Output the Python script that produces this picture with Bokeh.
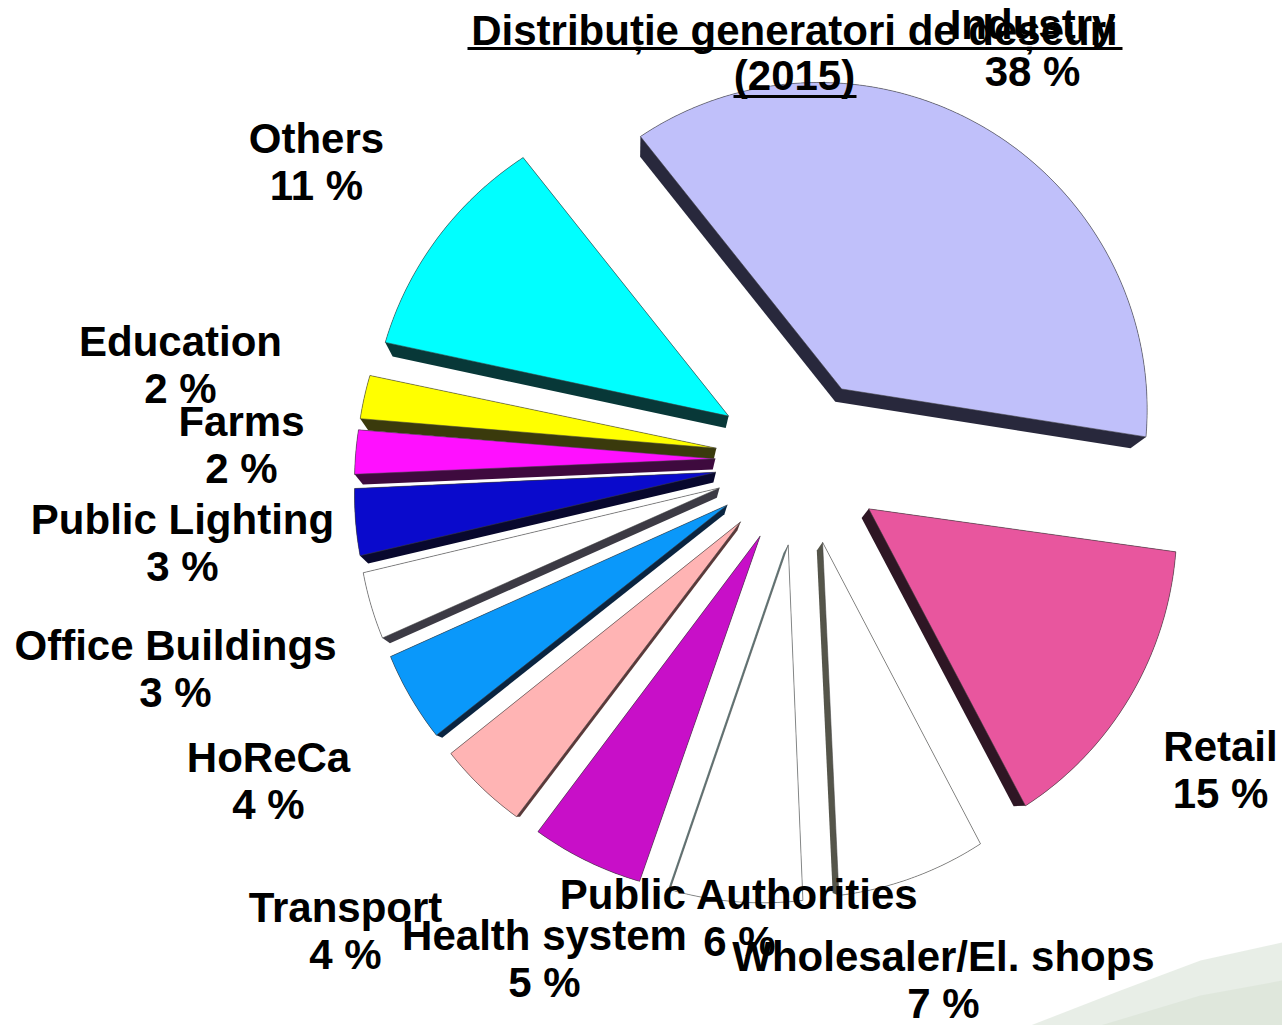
import numpy as np
from bokeh.plotting import figure
from bokeh.models import Range1d, ColumnDataSource
from bokeh.core.properties import value
from bokeh.embed import file_html
from bokeh.resources import INLINE

# ---- data (clockwise from the top) ----
categories = ["Industry", "Retail", "Wholesaler/El. shops", "Public Authorities",
              "Health system", "Transport", "HoReCa", "Office Buildings",
              "Public Lighting", "Farms", "Education", "Others"]
shares = [38, 15, 7, 6, 5, 4, 4, 3, 3, 2, 2, 11]
title_lines = ["Distribuție generatori de deșeuri", "(2015)"]

# ---- styles ----
top_colors = ["#C0C0FA", "#E8569E", "#FFFFFF", "#FFFFFF", "#C80FC8", "#FFB4B4",
              "#0A98FA", "#FFFFFF", "#0A0ACC", "#FF10FF", "#FFFF00", "#00FFFF"]
side_colors = ["#28283C", "#2E1624", "#55554A", "#647878", "#3A083A", "#5A3A3A",
               "#0A2440", "#3C3A44", "#08082E", "#3E0A3E", "#3A3A0C", "#083838"]
label_pos = [(1032, 47), (1220, 769), (943, 979), (739, 917), (544, 958), (345, 930),
             (268, 780), (175, 668), (182, 542), (241, 444), (180, 364), (316, 161)]

W, H = 1282, 1025
CX, CY = 800, 460
R0 = 330
EXPLODE = 84
AX, AY = 0.00017, 0.00015
VP = np.array([630.0, 815.0])
K = 0.03
START = -38.5


def project(X, Y):
    w = 1 + AX * X + AY * Y
    return CX + X / w, CY - Y / w


def hull(pts):
    pts = sorted(set((round(a, 3), round(b, 3)) for a, b in pts))
    if len(pts) < 3:
        return pts

    def cross(o, a, b):
        return (a[0] - o[0]) * (b[1] - o[1]) - (a[1] - o[1]) * (b[0] - o[0])
    lower, upper = [], []
    for p_ in pts:
        while len(lower) >= 2 and cross(lower[-2], lower[-1], p_) <= 0:
            lower.pop()
        lower.append(p_)
    for p_ in reversed(pts):
        while len(upper) >= 2 and cross(upper[-2], upper[-1], p_) <= 0:
            upper.pop()
        upper.append(p_)
    return lower[:-1] + upper[:-1]


total = float(sum(shares))
top_xs, top_ys, dark_xs, dark_ys = [], [], [], []
a0 = START
for s in shares:
    span = 360.0 * s / total
    a1 = a0 + span
    mid = np.radians((a0 + a1) / 2)
    apx, apy = EXPLODE * np.sin(mid), EXPLODE * np.cos(mid)
    t = np.radians(np.linspace(a0, a1, max(8, int(span * 2))))
    X = np.concatenate([[apx], apx + R0 * np.sin(t)])
    Y = np.concatenate([[apy], apy + R0 * np.cos(t)])
    sx, sy = project(X, Y)
    top_xs.append(list(sx))
    top_ys.append(list(sy))
    T = np.column_stack([sx, sy])
    B = T + K * (VP - T)
    hp = hull(list(map(tuple, np.vstack([T, B]))))
    dark_xs.append([q[0] for q in hp])
    dark_ys.append([q[1] for q in hp])
    a0 = a1

p = figure(width=W, height=H, output_backend="svg", toolbar_location=None,
           x_range=Range1d(0, W), y_range=Range1d(H, 0), min_border=0)
p.axis.visible = False
p.grid.visible = False
p.outline_line_color = None
p.background_fill_color = "white"
p.border_fill_color = "white"

# faint slide-background swoosh, bottom right
p.patch(x=[1030, 1120, 1200, 1282, 1282, 1030], y=[1025, 990, 960, 942, 1025, 1025],
        fill_color="#E6ECE4", fill_alpha=0.9, line_color=None)
p.patch(x=[1100, 1200, 1282, 1282, 1100], y=[1025, 995, 980, 1025, 1025],
        fill_color="#DCE5DA", fill_alpha=0.8, line_color=None)

p.patches(xs=dark_xs, ys=dark_ys, fill_color=side_colors, line_color=None)
p.patches(xs=top_xs, ys=top_ys, fill_color=top_colors,
          line_color="#404040", line_alpha=0.55, line_width=1)

labels = [f"{c}\n{v} %" for c, v in zip(categories, shares)]
src = ColumnDataSource(dict(x=[q[0] for q in label_pos], y=[q[1] for q in label_pos],
                            text=labels))
p.text(x="x", y="y", text="text", source=src, text_align="center",
       text_baseline="middle", text_font=value("Liberation Sans"),
       text_font_style="bold", text_font_size="42px", text_line_height=1.0,
       text_color="black")

p.text(x=[794, 794], y=[30, 75], text=title_lines, text_align="center",
       text_baseline="middle", text_font=value("Liberation Sans"),
       text_font_style="bold", text_font_size="42px", text_color="black")
p.segment(x0=[467, 733], y0=[48, 96], x1=[1122, 856], y1=[48, 96],
          line_color="black", line_width=3)

open("out.html", "w").write(file_html(p, INLINE))
